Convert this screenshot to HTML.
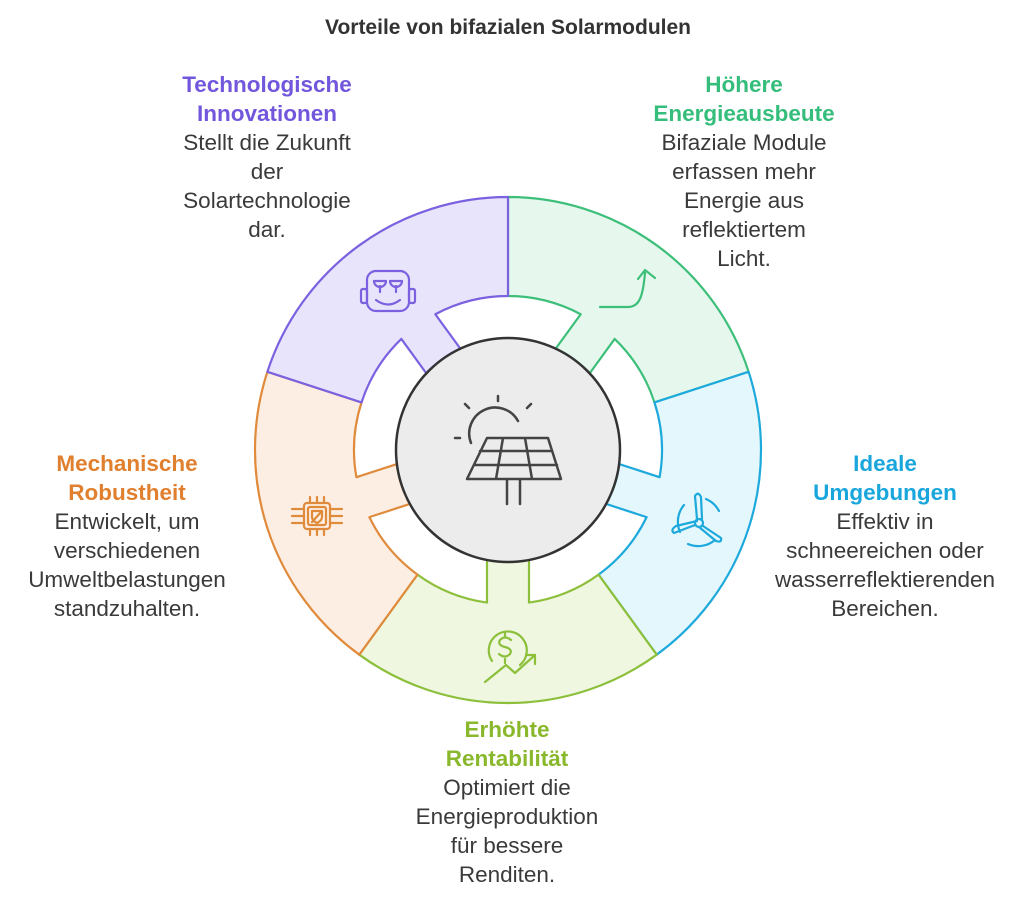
<!DOCTYPE html>
<html><head><meta charset="utf-8"><style>
body{margin:0;width:1024px;height:902px;background:#fff;overflow:hidden;font-family:"Liberation Sans",Arial,sans-serif}
svg{position:absolute;left:0;top:0}
.t{position:absolute;text-align:center;font-size:22.5px;line-height:29px;color:#3a3a3a;white-space:nowrap;transform:translateX(-50%)}
.t b{display:block;font-weight:bold}
</style></head><body>
<svg width="1024" height="902" viewBox="0 0 1024 902" id="s"></svg>
<div class="t" style="left:508px;top:13px;font-weight:bold;font-size:21px;color:#333">Vorteile von bifazialen Solarmodulen</div>
<div class="t" style="left:267px;top:70px"><b style="color:#7257dd">Technologische<br>Innovationen</b>Stellt die Zukunft<br>der<br>Solartechnologie<br>dar.</div>
<div class="t" style="left:744px;top:70px"><b style="color:#35bd7b">Höhere<br>Energieausbeute</b>Bifaziale Module<br>erfassen mehr<br>Energie aus<br>reflektiertem<br>Licht.</div>
<div class="t" style="left:885px;top:449px"><b style="color:#19a6dc">Ideale<br>Umgebungen</b>Effektiv in<br>schneereichen oder<br>wasserreflektierenden<br>Bereichen.</div>
<div class="t" style="left:127px;top:449px"><b style="color:#e0802e">Mechanische<br>Robustheit</b>Entwickelt, um<br>verschiedenen<br>Umweltbelastungen<br>standzuhalten.</div>
<div class="t" style="left:507px;top:715px"><b style="color:#8ab82c">Erhöhte<br>Rentabilität</b>Optimiert die<br>Energieproduktion<br>für bessere<br>Renditen.</div>
<script>
(function(){
var cx=508,cy=450,s=document.getElementById('s');
function P(r,a){a=a*Math.PI/180;return (cx+r*Math.sin(a)).toFixed(2)+' '+(cy-r*Math.cos(a)).toFixed(2);}
var segs=[[36,'#e6f8ee','#3dbf7a'],[108,'#e3f7fd','#1ea9dc'],[180,'#eff7e1','#8cbf3a'],[252,'#fdeee3','#e08a3c'],[324,'#e8e4fb','#7b61e0']];
var h='';
var o1=Math.asin(21/154)*180/Math.PI,o2=Math.asin(21/112)*180/Math.PI;
segs.forEach(function(g){var c=g[0],a0=c-36,a1=c+36;
h+='<path d="M'+P(253,a0)+' A253 253 0 0 1 '+P(253,a1)+' L'+P(154,a1)+' A154 154 0 0 0 '+P(154,c+o1)+' L'+P(112,c+o2)+' A112 112 0 0 0 '+P(112,c-o2)+' L'+P(154,c-o1)+' A154 154 0 0 0 '+P(154,a0)+' Z" fill="'+g[1]+'" stroke="'+g[2]+'" stroke-width="2.2" stroke-linejoin="round"/>';});
h+='<circle cx="508" cy="450" r="112" fill="#ececec" stroke="#333" stroke-width="2.5"/>';
h+='<g fill="none" stroke="#444" stroke-width="2.5" stroke-linecap="round" stroke-linejoin="round">'+
'<path d="M471 443 A26 26 0 0 1 518 421"/><path d="M498 396V401M465 404L469 408M531 404L527 408M455 438H460"/>'+
'<path d="M487 438H548L561 479H467Z M480 451H552 M474 465H557 M503 438L496 479 M525 438L532 479 M507 479V504 M520 479V504"/></g>';
h+='<g fill="none" stroke="#7b61e0" stroke-width="2.2" stroke-linecap="round" stroke-linejoin="round"><rect x="367" y="271" width="42" height="40" rx="9"/><rect x="361" y="289" width="6" height="14" rx="2"/><rect x="409" y="289" width="6" height="14" rx="2"/><path d="M374 281h12a6 6 0 0 1-12 0zM390 281h12a6 6 0 0 1-12 0zM380 286v6M396 286v6M376 300c8 6 16 6 24 0"/></g>';
h+='<g fill="none" stroke="#3dbf7a" stroke-width="2.2" stroke-linecap="round" stroke-linejoin="round"><path d="M600 307H628C640 307 643 295 645 273M638 279L645 270L655 278"/></g>';
h+='<g fill="none" stroke="#1ea9dc" stroke-width="2.2" stroke-linecap="round" stroke-linejoin="round"><circle cx="699" cy="523" r="4"/><path d="M697 519L695 496Q698 491 701 497L702 519M703 526L721 538Q722 543 716 541L699 527M695 525L674 533Q670 530 676 526L697 521"/><path d="M684 505A26 26 0 0 0 680 532M715 540A26 26 0 0 1 688 544M706 499A26 26 0 0 1 719 511"/></g>';
h+='<g fill="none" stroke="#e08a3c" stroke-width="2.2" stroke-linecap="round" stroke-linejoin="round"><rect x="304" y="503" width="26" height="26" rx="3"/><rect x="308" y="507" width="18" height="18" rx="2"/><path d="M312 511h10v6c0 3-3 5-5 6c-2-1-5-3-5-6z M312 522L322 511M310 497v6M317 497v6M324 497v6M310 529v6M317 529v6M324 529v6M292 509h12M292 516h12M292 523h12M330 509h12M330 516h12M330 523h12"/></g>';
h+='<g fill="none" stroke="#8cbf3a" stroke-width="2.2" stroke-linecap="round" stroke-linejoin="round"><path d="M492 661A19 19 0 1 1 520 665"/><path d="M505 633v4M505 659v4M511 640q-6-5-11 0q-3 5 5 7q8 2 5 7q-5 5-11 0"/><path d="M485 682L506 665L515 673L535 655M526 655H535V664"/></g>';
s.innerHTML=h;})();
</script>
</body></html>
